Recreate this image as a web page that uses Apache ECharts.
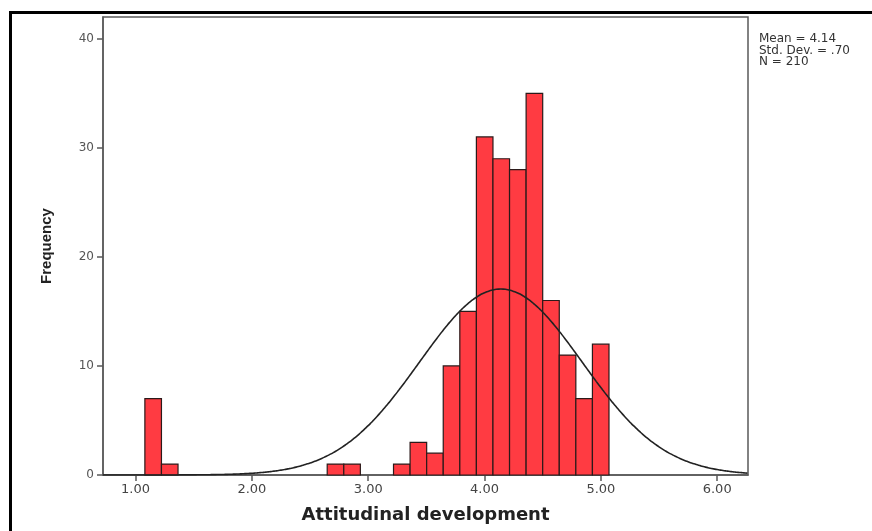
<!DOCTYPE html>
<html>
<head>
<meta charset="utf-8">
<script src="https://cdn.jsdelivr.net/npm/echarts@6/dist/echarts.min.js"></script>
<style>
  html, body { margin: 0; padding: 0; background: #fff; }
  #chart { width: 872px; height: 531px; }
</style>
</head>
<body>
<div id="chart"></div>
<script>
  // histogram bins (left edge + width) and counts
  const binStart = 1.08
  const binWidth = 0.1425
  const counts = [7, 1, 0, 0, 0, 0, 0, 0, 0, 0, 0, 1, 1, 0, 0, 1, 3, 2, 10, 15, 31, 29, 28, 35, 16, 11, 7, 12]
  const xTicks = [1, 2, 3, 4, 5, 6]
  const yTicks = [0, 10, 20, 30, 40]
  // fitted normal curve parameters shown in the legend
  const mean = 4.14
  const stdDev = 0.70
  const n = 210

  const bars = counts.map((c, i) => {
    const lo = binStart + i * binWidth
    return [lo, lo + binWidth, c]
  }).filter(d => d[2] > 0)

  const xMin = 0.72
  const xMax = 6.265
  const curve = []
  for (let x = xMin; x <= xMax + 1e-9; x += 0.02) {
    const z = (x - mean) / stdDev
    const y = n * binWidth / (stdDev * Math.sqrt(2 * Math.PI)) * Math.exp(-0.5 * z * z)
    curve.push([x, y])
  }

  const chart = echarts.init(document.getElementById('chart'))
  const options = {
    animation: false,
    grid: {
      left: 103,
      right: 124,
      top: 17,
      bottom: 56,
      show: true,
      borderColor: '#5a5a5a',
      borderWidth: 1.5,
      backgroundColor: 'transparent',
    },
    xAxis: {
      type: 'value',
      min: xMin,
      max: xMax,
      name: 'Attitudinal development',
      nameLocation: 'middle',
      nameGap: 31,
      nameTextStyle: {
        fontFamily: 'DejaVu Sans',
        fontWeight: 'bold',
        fontSize: 18,
        color: '#222',
      },
      splitLine: { show: false },
      axisLine: { onZero: false, lineStyle: { color: '#5a5a5a', width: 1.5 } },
      axisTick: {
        customValues: xTicks,
        length: 6,
        lineStyle: { color: '#5a5a5a', width: 1.5 },
      },
      axisLabel: {
        customValues: xTicks,
        formatter: v => v.toFixed(2),
        fontFamily: 'DejaVu Sans',
        fontSize: 13,
        color: '#444',
        margin: 8,
      },
    },
    yAxis: {
      type: 'value',
      min: 0,
      max: 42,
      name: 'Frequency',
      nameLocation: 'middle',
      nameGap: 49,
      nameTextStyle: {
        fontFamily: 'Liberation Sans',
        fontWeight: 'bold',
        fontSize: 15,
        color: '#222',
      },
      splitLine: { show: false },
      axisLine: { show: true, lineStyle: { color: '#5a5a5a', width: 1.5 } },
      axisTick: {
        show: true,
        customValues: yTicks,
        length: 6,
        lineStyle: { color: '#5a5a5a', width: 1.5 },
      },
      axisLabel: {
        customValues: yTicks,
        fontFamily: 'DejaVu Sans',
        fontSize: 12,
        color: '#555',
        margin: 9,
      },
    },
    graphic: [
      {
        type: 'rect',
        shape: { x: 10.5, y: 12.5, width: 900, height: 600 },
        style: { fill: 'none', stroke: '#000', lineWidth: 3 },
        z: 100,
      },
      {
        type: 'text',
        left: 759,
        top: 33,
        style: {
          text: 'Mean = ' + mean.toFixed(2) + '\nStd. Dev. = .70\nN = ' + n,
          font: '12px "DejaVu Sans"',
          lineHeight: 11.5,
          fill: '#333',
        },
      },
    ],
    series: [
      {
        type: 'custom',
        data: bars,
        encode: { x: [0, 1], y: 2 },
        renderItem: (params, api) => {
          const p0 = api.coord([api.value(0), 0])
          const p1 = api.coord([api.value(1), api.value(2)])
          return {
            type: 'rect',
            shape: { x: p0[0], y: p1[1], width: p1[0] - p0[0], height: p0[1] - p1[1] },
            style: { fill: '#ff3b42', stroke: '#2b1a1a', lineWidth: 1.2 },
          }
        },
        z: 2,
      },
      {
        type: 'line',
        data: curve,
        showSymbol: false,
        smooth: true,
        lineStyle: { color: '#222', width: 1.6 },
        z: 3,
      },
    ],
  }
  chart.setOption(options)
</script>
</body>
</html>
